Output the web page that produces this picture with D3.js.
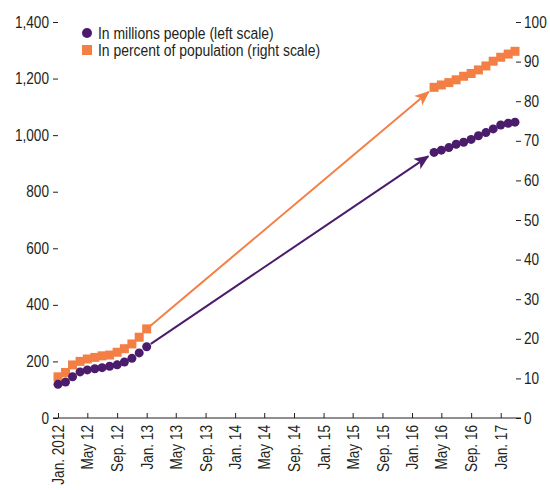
<!DOCTYPE html>
<html>
<head>
<meta charset="utf-8">
<script src="https://cdn.jsdelivr.net/npm/d3@7"></script>
<style>
  html, body { margin: 0; padding: 0; background: #fff; }
  svg { display: block; }
  text { font-family: "Liberation Sans", Arial, sans-serif; fill: #231f20; }
</style>
</head>
<body>
<svg id="chart" width="550" height="490"></svg>
<script>
// Monthly observations: first block Jan 2012 – Jan 2013, second block Apr 2016 – Mar 2017
const monthsA = ["2012-01","2012-02","2012-03","2012-04","2012-05","2012-06","2012-07",
                 "2012-08","2012-09","2012-10","2012-11","2012-12","2013-01"];
const peopleA = [119, 127, 146, 163, 170, 174, 178, 183, 188, 198, 211, 230, 252];
const percentA = [10.4, 11.5, 13.4, 14.3, 14.9, 15.3, 15.7, 15.9, 16.6, 17.5, 18.7, 20.4, 22.5];

const monthsB = ["2016-04","2016-05","2016-06","2016-07","2016-08","2016-09",
                 "2016-10","2016-11","2016-12","2017-01","2017-02","2017-03"];
const peopleB = [939, 947, 956, 968, 975, 985, 998, 1009, 1022, 1036, 1042, 1046];
const percentB = [83.5, 84.1, 84.7, 85.4, 86.3, 87.0, 87.9, 88.9, 90.1, 91.1, 91.9, 92.6];

// Axis ticks
const xTickMonths = ["2012-01","2012-05","2012-09","2013-01","2013-05","2013-09","2014-01",
                     "2014-05","2014-09","2015-01","2015-05","2015-09","2016-01","2016-05",
                     "2016-09","2017-01"];
const xTickLabels = ["Jan. 2012","May 12","Sep. 12","Jan. 13","May 13","Sep. 13","Jan. 14",
                     "May 14","Sep. 14","Jan. 15","May 15","Sep. 15","Jan. 16","May 16",
                     "Sep. 16","Jan. 17"];
const leftTicks = [0, 200, 400, 600, 800, 1000, 1200, 1400];
const rightTicks = [0, 10, 20, 30, 40, 50, 60, 70, 80, 90, 100];

const legendLabels = ["In millions people (left scale)", "In percent of population (right scale)"];

const purple = "#4b1c6b";
const orange = "#f47f45";

const parse = d3.timeParse("%Y-%m");
const svg = d3.select("#chart");

// Condensed look: squeeze each text run horizontally
function narrow(sel, k) {
  sel.each(function () {
    const w = this.getComputedTextLength();
    d3.select(this).attr("textLength", w * k).attr("lengthAdjust", "spacingAndGlyphs");
  });
}
const squeeze = 0.85;

const x = d3.scaleTime()
  .domain([parse("2012-01"), parse("2017-03")])
  .range([58, 515]);
const yL = d3.scaleLinear().domain([0, 1400]).range([418, 22]);
const yR = d3.scaleLinear().domain([0, 100]).range([418, 22]);

const tickFont = 16;

// Left axis
const gL = svg.append("g").attr("transform", `translate(${x.range()[0]},0)`)
  .call(d3.axisLeft(yL).tickValues(leftTicks).tickFormat(d3.format(",")).tickSize(5).tickPadding(4));
gL.select(".domain").remove();
gL.selectAll("line").attr("stroke", "#231f20");
gL.selectAll("text").style("font-size", tickFont + "px").call(narrow, squeeze);

// Right axis
const gR = svg.append("g").attr("transform", `translate(${x.range()[1] + 1},0)`)
  .call(d3.axisRight(yR).tickValues(rightTicks).tickSize(5).tickPadding(3));
gR.select(".domain").remove();
gR.selectAll("line").attr("stroke", "#231f20");
gR.selectAll("text").style("font-size", tickFont + "px").call(narrow, squeeze);

// Bottom axis: baseline joins the zero ticks of both sides, ticks point up
svg.append("line")
  .attr("x1", x.range()[0] - 5).attr("x2", x.range()[1] + 6)
  .attr("y1", yL(0)).attr("y2", yL(0))
  .attr("stroke", "#231f20").attr("stroke-width", 1);

const gX = svg.append("g").attr("transform", `translate(0,${yL(0)})`)
  .call(d3.axisBottom(x)
    .tickValues(xTickMonths.map(parse))
    .tickFormat((d, i) => xTickLabels[i])
    .tickSizeInner(-5).tickSizeOuter(0).tickPadding(6));
gX.select(".domain").remove();
gX.selectAll("line").attr("stroke", "#231f20");
gX.selectAll("text")
  .style("font-size", tickFont + "px")
  .attr("text-anchor", "end")
  .attr("transform", "rotate(-90)")
  .attr("x", -7).attr("y", 0).attr("dy", "0.35em")
  .call(narrow, squeeze);

// Arrows bridging the gap between the two blocks
const defs = svg.append("defs");
function arrowMarker(id, color) {
  defs.append("marker")
    .attr("id", id)
    .attr("viewBox", "0 0 12 10")
    .attr("refX", 11).attr("refY", 5)
    .attr("markerUnits", "userSpaceOnUse")
    .attr("markerWidth", 15).attr("markerHeight", 13)
    .attr("orient", "auto")
    .append("path")
    .attr("d", "M0,0 L12,5 L0,10 L3,5 Z")
    .attr("fill", color);
}
arrowMarker("arrowOrange", orange);
arrowMarker("arrowPurple", purple);

function bridge(x0, y0, x1, y1, color, id, gapStart, gapEnd) {
  const dx = x1 - x0, dy = y1 - y0, len = Math.hypot(dx, dy);
  const ux = dx / len, uy = dy / len;
  svg.append("line")
    .attr("x1", x0 + ux * gapStart).attr("y1", y0 + uy * gapStart)
    .attr("x2", x1 - ux * gapEnd).attr("y2", y1 - uy * gapEnd)
    .attr("stroke", color).attr("stroke-width", 2)
    .attr("marker-end", `url(#${id})`);
}
const lastA = monthsA.length - 1;
bridge(x(parse(monthsA[lastA])), yR(percentA[lastA]), x(parse(monthsB[0])), yR(percentB[0]),
       orange, "arrowOrange", 5, 7);
bridge(x(parse(monthsA[lastA])), yL(peopleA[lastA]), x(parse(monthsB[0])), yL(peopleB[0]),
       purple, "arrowPurple", 5, 7);

// Percent series (squares), drawn beneath the circles
const sq = 9;
const pctPts = monthsA.map((m, i) => ({ m, v: percentA[i] }))
  .concat(monthsB.map((m, i) => ({ m, v: percentB[i] })));
svg.append("g").selectAll("rect").data(pctPts).join("rect")
  .attr("x", d => x(parse(d.m)) - sq / 2)
  .attr("y", d => yR(d.v) - sq / 2)
  .attr("width", sq).attr("height", sq)
  .attr("fill", orange);

// People series (circles)
const pplPts = monthsA.map((m, i) => ({ m, v: peopleA[i] }))
  .concat(monthsB.map((m, i) => ({ m, v: peopleB[i] })));
svg.append("g").selectAll("circle").data(pplPts).join("circle")
  .attr("cx", d => x(parse(d.m)))
  .attr("cy", d => yL(d.v))
  .attr("r", 4.5)
  .attr("fill", purple);

// Legend
const lg = svg.append("g").attr("transform", "translate(87,33)");
lg.append("circle").attr("cx", 0).attr("cy", 0).attr("r", 5).attr("fill", purple);
lg.append("rect").attr("x", -5).attr("y", 12).attr("width", 10).attr("height", 10).attr("fill", orange);
lg.selectAll("text").data(legendLabels).join("text")
  .attr("x", 11)
  .attr("y", (d, i) => i * 17)
  .attr("dy", "0.35em")
  .style("font-size", "16px")
  .text(d => d)
  .call(narrow, 0.87);
</script>
</body>
</html>
